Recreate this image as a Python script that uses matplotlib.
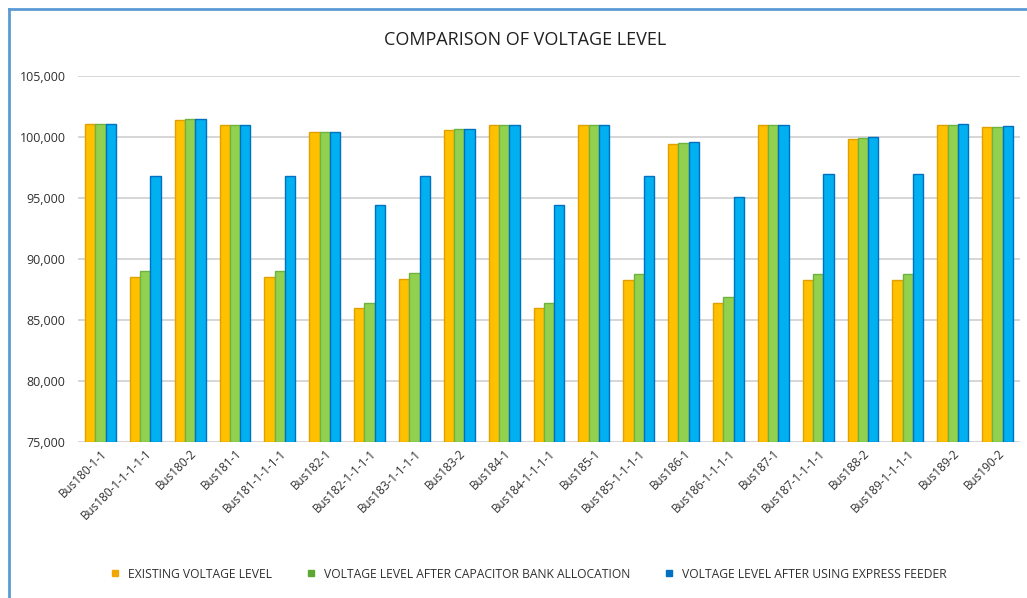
import numpy as np
import matplotlib.pyplot as plt
from matplotlib.lines import Line2D
from matplotlib.ticker import FuncFormatter

## Data
buses = ['Bus180-1-1', 'Bus180-1-1-1-1-1', 'Bus180-2', 'Bus181-1', 'Bus181-1-1-1-1',
         'Bus182-1', 'Bus182-1-1-1-1', 'Bus183-1-1-1-1', 'Bus183-2', 'Bus184-1',
         'Bus184-1-1-1-1', 'Bus185-1', 'Bus185-1-1-1-1', 'Bus186-1', 'Bus186-1-1-1-1',
         'Bus187-1', 'Bus187-1-1-1-1', 'Bus188-2', 'Bus189-1-1-1-1', 'Bus189-2', 'Bus190-2']
existing = [101030, 88500, 101420, 101000, 88500, 100450, 85960, 88380, 100550, 100950,
            85950, 100950, 88270, 99400, 86420, 100950, 88250, 99870, 88250, 100950, 100820]
capacitor = [101030, 89000, 101500, 101000, 89000, 100450, 86420, 88840, 100680, 100950,
             86400, 100950, 88730, 99540, 86910, 100950, 88730, 99950, 88730, 100950, 100800]
express = [101050, 96780, 101500, 101000, 96780, 100450, 94430, 96780, 100680, 100950,
           94450, 100950, 96800, 99550, 95110, 100950, 96930, 100000, 96930, 101060, 100870]

series_names = ['EXISTING VOLTAGE LEVEL',
                'VOLTAGE LEVEL AFTER CAPACITOR BANK ALLOCATION',
                'VOLTAGE LEVEL AFTER USING EXPRESS FEEDER']
fills = ['#FFC000', '#92D050', '#00B0F0']
edges = ['#E0A000', '#6DB33F', '#0070C0']
legend_colors = ['#F0A800', '#5DA832', '#0070C0']

plt.rcParams['font.family'] = ['Open Sans', 'DejaVu Sans']

fig = plt.figure(figsize=(10.27, 5.98), dpi=100)
ax = fig.add_axes([78/1027, 1 - 442/598, (1020-78)/1027, (442-76)/598])

x = np.arange(len(buses))
w = 0.23
for k, vals in enumerate([existing, capacitor, express]):
    ax.bar(x + (k - 1) * w, np.array(vals) - 75000, width=w, bottom=75000,
           color=fills[k], edgecolor=edges[k], linewidth=1.0, zorder=3)

ax.set_ylim(75000, 105000)
ax.set_xlim(-0.5, len(buses) - 0.5)
ax.set_yticks(np.arange(75000, 105001, 5000))
ax.yaxis.set_major_formatter(FuncFormatter(lambda v, p: f'{int(v):,}'))
ax.grid(axis='y', color='#D0D0D0', linewidth=1.2, zorder=0)
for s in ax.spines.values():
    s.set_visible(False)
ax.tick_params(axis='both', length=0, labelsize=8.5, colors='#303030')
ax.tick_params(axis='y', pad=9, labelsize=9)
ax.set_xticks(x)
ax.set_xticklabels(buses, rotation=45, ha='right', rotation_mode='anchor')

fig.text(0.511, 1 - 40/598, 'COMPARISON OF VOLTAGE LEVEL', ha='center', va='center',
         fontsize=13, color='#202020')

handles = [Line2D([], [], marker='s', linestyle='none', markersize=5,
                  markerfacecolor=c, markeredgecolor=c) for c in legend_colors]
fig.legend(handles, series_names, loc='center', bbox_to_anchor=(0.511, 1 - 574/598),
           ncol=3, frameon=False, fontsize=8.7, handletextpad=0.1, columnspacing=2.2,
           labelcolor='#303030')

# blue frame edges at top and left like the original screenshot
fig.add_artist(Line2D([9/1027, 9/1027], [0, 1 - 9/598], transform=fig.transFigure,
                      color='#5B9BD5', linewidth=2))
fig.add_artist(Line2D([9/1027, 1], [1 - 9/598, 1 - 9/598], transform=fig.transFigure,
                      color='#5B9BD5', linewidth=2))

fig.savefig('out.png', dpi=100)
